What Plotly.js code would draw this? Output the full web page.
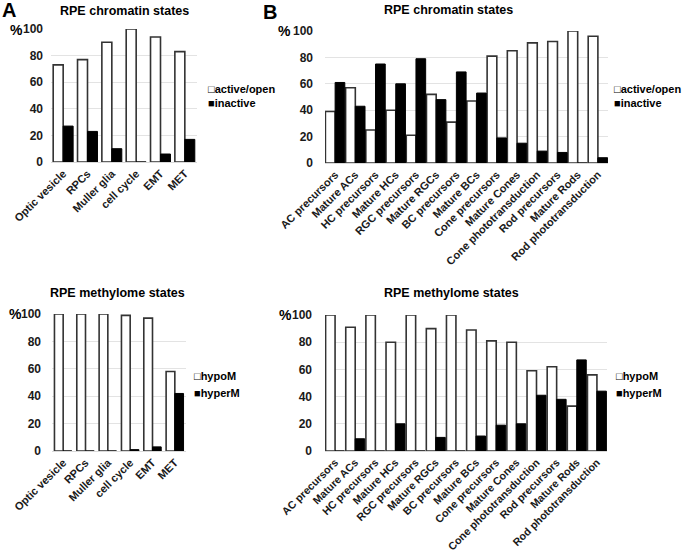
<!DOCTYPE html>
<html>
<head>
<meta charset="utf-8">
<script src="https://cdn.plot.ly/plotly-3.0.1.min.js"></script>
<style>body{margin:0;background:#fff}</style>
</head>
<body>
<div id="chart" style="width:685px;height:553px"></div>
<script>
// categories
const stagesA = ['Optic vesicle', 'RPCs', 'Muller glia', 'cell cycle', 'EMT', 'MET'];
const stagesB = ['AC precursors', 'Mature ACs', 'HC precursors', 'Mature HCs', 'RGC precursors',
    'Mature RGCs', 'BC precursors', 'Mature BCs', 'Cone precursors', 'Mature Cones',
    'Cone phototransduction', 'Rod precursors', 'Mature Rods', 'Rod phototransduction'];

// chromatin states (%)
const chromActiveA = [73, 77, 90, 100, 94, 83];
const chromInactiveA = [27, 23, 10, 0, 6, 17];
const chromActiveB = [39, 57, 25, 40, 21, 52, 31, 47, 81, 85, 91, 92, 100, 96];
const chromInactiveB = [61, 43, 75, 60, 79, 48, 69, 53, 19, 15, 9, 8, 0, 4];

// methylome states (%)
const methHypoA = [100, 100, 100, 99, 97, 58];
const methHyperA = [0, 0, 0, 1, 3, 42];
const methHypoB = [100, 91, 100, 80, 100, 90, 100, 89, 81, 80, 59, 62, 33, 56];
const methHyperB = [0, 9, 0, 20, 0, 10, 0, 11, 19, 20, 41, 38, 67, 44];

const chromNames = ['active/open', 'inactive'];
const methNames = ['hypoM', 'hyperM'];
const yTicks = [0, 20, 40, 60, 80, 100];

const W = 685, H = 553;
const fx = p => p / W;
const fy = p => 1 - p / H;
const FONT = 'Liberation Sans, Arial, sans-serif';

function pair(cats, open, closed, names, xa, ya, w) {
    return [
        {type: 'bar', x: cats, y: open, name: names[0], xaxis: xa, yaxis: ya,
         width: w, offset: -w, marker: {color: '#ffffff', line: {color: '#333333', width: 1.6}}},
        {type: 'bar', x: cats, y: closed, name: names[1], xaxis: xa, yaxis: ya,
         width: w, offset: 0, marker: {color: '#000000', line: {color: '#000000', width: 1}}}
    ];
}

function xAxis(l, r, anchor, size) {
    return {domain: [fx(l), fx(r)], anchor: anchor, type: 'category',
        showline: true, linecolor: '#d9d9d9', linewidth: 1, ticks: '',
        tickmode: 'linear', tick0: 0, dtick: 1, tickangle: -45,
        tickfont: {family: FONT, size: size, color: '#1a1a1a', weight: 'bold'},
        automargin: false, showgrid: false, zeroline: false};
}

function yAxis(bottom, top, anchor, standoff) {
    return {domain: [fy(bottom), fy(top)], anchor: anchor, range: [0, 100],
        tickmode: 'array', tickvals: yTicks,
        showgrid: true, gridcolor: '#e3e3e3', gridwidth: 1, zeroline: false, showline: false,
        ticks: '', ticklabelstandoff: standoff,
        tickfont: {family: FONT, size: 12, color: '#1a1a1a', weight: 'bold'},
        automargin: false};
}

function note(text, x, y, size, xanchor) {
    return {text: text, x: fx(x), y: fy(y), xref: 'paper', yref: 'paper',
        xanchor: xanchor || 'center', yanchor: 'middle', showarrow: false,
        font: {family: FONT, size: size, color: '#000', weight: 'bold'}};
}

function legendNotes(names, x, y1, y2) {
    return [note('\u25A1' + names[0], x, y1, 11, 'left'),
            note('\u25A0' + names[1], x, y2, 11, 'left')];
}

const data = [].concat(
    pair(stagesA, chromActiveA, chromInactiveA, chromNames, 'x', 'y', 0.41),
    pair(stagesB, chromActiveB, chromInactiveB, chromNames, 'x2', 'y2', 0.48),
    pair(stagesA, methHypoA, methHyperA, methNames, 'x3', 'y3', 0.39),
    pair(stagesB, methHypoB, methHyperB, methNames, 'x4', 'y4', 0.47)
);

const layout = {
    width: W, height: H,
    margin: {l: 0, r: 0, t: 0, b: 0},
    paper_bgcolor: '#fff', plot_bgcolor: '#fff',
    showlegend: false,
    barmode: 'overlay',
    xaxis: xAxis(51, 197, 'y', 11),
    yaxis: yAxis(162, 29, 'x', 7),
    xaxis2: xAxis(325, 608, 'y2', 11),
    yaxis2: yAxis(163, 31, 'x2', 11),
    xaxis3: xAxis(52, 186, 'y3', 11),
    yaxis3: yAxis(451, 314, 'x3', 10),
    xaxis4: xAxis(325, 607, 'y4', 10.7),
    yaxis4: yAxis(451, 315, 'x4', 12),
    annotations: [
        note('A', 9, 10, 20),
        note('B', 270, 12, 20),
        note('RPE chromatin states', 124, 11, 12.5),
        note('RPE chromatin states', 448, 10, 12.5),
        note('RPE methylome states', 117, 293, 12.5),
        note('RPE methylome states', 451, 293, 12.5),
        note('%', 25, 30, 14, 'right'),
        note('%', 293, 31, 14, 'right'),
        note('%', 24, 314, 14, 'right'),
        note('%', 294, 315, 14, 'right')
    ].concat(
        legendNotes(chromNames, 206, 89, 103),
        legendNotes(chromNames, 612, 89, 103),
        legendNotes(methNames, 192, 376, 393),
        legendNotes(methNames, 614, 376, 393)
    )
};

Plotly.newPlot('chart', data, layout, {staticPlot: true});
</script>
</body>
</html>
